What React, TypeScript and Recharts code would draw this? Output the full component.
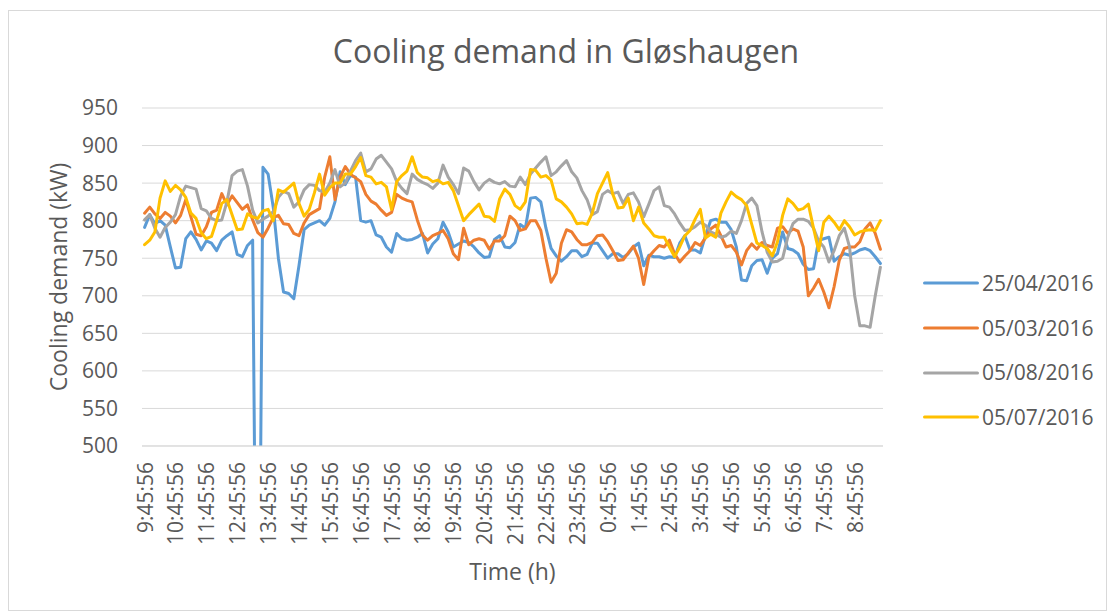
import { CartesianGrid, Label, Legend, Line, LineChart, XAxis, YAxis } from "recharts";

const FONT = "'Open Sans', 'DejaVu Sans', sans-serif";
const TEXT = "#595959";
const GRID = "#d9d9d9";
const COLORS = ["#5B9BD5", "#ED7D31", "#A5A5A5", "#FFC000"];

// one reading every 10 minutes, starting 9:45:56
const TIMES = Array.from({ length: 144 }, (_, i) => {
  const m = 9 * 60 + 45 + i * 10;
  return `${Math.floor(m / 60) % 24}:${String(m % 60).padStart(2, "0")}:56`;
});

const HOUR_TICKS = [
  "9:45:56", "10:45:56", "11:45:56", "12:45:56", "13:45:56", "14:45:56",
  "15:45:56", "16:45:56", "17:45:56", "18:45:56", "19:45:56", "20:45:56",
  "21:45:56", "22:45:56", "23:45:56", "0:45:56", "1:45:56", "2:45:56",
  "3:45:56", "4:45:56", "5:45:56", "6:45:56", "7:45:56", "8:45:56",
];

const Y_TICKS = [500, 550, 600, 650, 700, 750, 800, 850, 900, 950];

const SERIES_NAMES = ["25/04/2016", "05/03/2016", "05/08/2016", "05/07/2016"];

const APR25 = [
  791, 808, 796, 800, 794, 765, 737, 738, 776, 785, 775, 761, 773, 770, 760, 774, 780, 785, 755, 752,
  767, 774, 0, 871, 862, 818, 750, 705, 703, 696, 740, 788, 794, 797, 800, 794, 803,
  825, 865, 848, 860, 858, 800, 798, 800, 781, 778, 765, 758, 783, 776, 774, 775, 778, 783, 757, 769,
  776, 798, 785, 765, 769, 773, 771, 765, 757, 751, 752, 775, 780, 765, 764, 771,
  795, 790, 830, 831, 825, 790, 763, 753, 746, 752, 760, 760, 752, 755, 770, 770, 760, 750, 756, 756,
  751, 756, 765, 770, 740, 754, 752, 752, 750, 752, 751, 770, 780, 761, 761, 757,
  780, 800, 802, 798, 798, 788, 765, 721, 720, 740, 747, 748, 730, 750, 756, 785, 763, 761, 756, 742,
  735, 736, 774, 776, 778, 746, 752, 756, 754, 757, 761, 763, 760, 752, 743,
];

const MAR05 = [
  810, 818, 809, 803, 811, 806, 797, 807, 828, 805, 782, 780, 792, 811, 814, 836, 821, 833, 824, 815,
  821, 801, 784, 778, 790, 804, 807, 796, 795, 783, 780, 797, 808, 812, 816, 858, 885,
  828, 858, 872, 862, 857, 852, 835, 826, 822, 814, 807, 811, 835, 830, 827, 825, 801, 781, 774, 780,
  783, 787, 776, 756, 748, 790, 768, 774, 776, 774, 762, 773, 773, 780, 806, 800,
  787, 789, 800, 800, 787, 750, 718, 730, 770, 788, 785, 775, 768, 768, 771, 780, 781, 772, 760, 747,
  748, 757, 766, 750, 715, 752, 760, 767, 765, 774, 756, 745, 753, 760, 771, 767,
  777, 789, 794, 780, 765, 767, 758, 741, 760, 769, 762, 771, 767, 765, 790, 792, 783, 789, 786, 765,
  700, 710, 722, 705, 684, 712, 747, 763, 765, 765, 772, 789, 797, 783, 762,
];

const AUG05 = [
  801, 808, 790, 778, 791, 798, 808, 833, 846, 844, 842, 816, 813, 803, 800, 801, 825, 860, 866, 868,
  846, 814, 797, 802, 806, 812, 831, 839, 836, 818, 825, 841, 848, 847, 840, 838, 850,
  868, 845, 850, 866, 880, 890, 865, 869, 882, 887, 878, 869, 852, 843, 836, 862, 855, 851, 848, 843,
  850, 874, 858, 848, 836, 870, 866, 852, 841, 850, 855, 851, 849, 852, 846, 845,
  858, 848, 862, 870, 878, 885, 860, 865, 873, 880, 865, 857, 840, 828, 808, 812, 835, 840, 836, 838,
  823, 835, 837, 825, 805, 822, 840, 845, 820, 818, 809, 797, 787, 788, 792, 798,
  794, 785, 782, 778, 780, 786, 783, 800, 823, 830, 820, 785, 758, 745, 746, 750, 778, 796, 802, 802,
  799, 790, 773, 765, 745, 760, 780, 790, 765, 700, 660, 660, 658, 700, 738,
];

const JUL05 = [
  768, 774, 785, 830, 853, 839, 847, 841, 831, 810, 803, 784, 776, 779, 800, 823, 828, 808, 788, 789,
  809, 805, 803, 813, 815, 800, 841, 838, 844, 850, 823, 806, 815, 837, 862, 834, 844,
  850, 850, 862, 862, 872, 884, 860, 858, 849, 851, 845, 815, 852, 860, 866, 885, 864, 858, 857, 852,
  854, 849, 851, 840, 820, 800, 808, 815, 822, 806, 805, 799, 829, 842, 835, 820,
  815, 825, 868, 867, 858, 860, 854, 829, 825, 818, 809, 796, 797, 795, 810, 836, 850, 864, 835, 817,
  818, 830, 800, 818, 797, 789, 780, 778, 778, 765, 752, 765, 780, 787, 802, 815,
  777, 782, 778, 810, 825, 838, 832, 828, 820, 795, 770, 767, 763, 753, 772, 807, 829, 823, 814, 816,
  822, 790, 760, 798, 806, 798, 788, 800, 792, 781, 785, 787, 788, 787, 800,
];

const SERIES_VALUES = [APR25, MAR05, AUG05, JUL05];
const KEYS = ["apr25", "mar05", "aug05", "jul05"];

const rows = TIMES.map((time, i) => {
  const row: { [k: string]: string | number } = { time };
  KEYS.forEach((k, s) => {
    row[k] = SERIES_VALUES[s][i];
  });
  return row;
});

function TimeTick({ x, y, payload }: any) {
  const bx = x + 8;
  return (
    <text
      x={bx}
      y={y}
      transform={`rotate(-90, ${bx}, ${y})`}
      textAnchor="end"
      fill={TEXT}
      fontSize={21}
      fontFamily={FONT}
    >
      {payload.value}
    </text>
  );
}

function LegendBox({ payload }: any) {
  // keep the series order, not the alphabetical one
  const items = [...(payload ?? [])].sort(
    (a: any, b: any) => SERIES_NAMES.indexOf(a.value) - SERIES_NAMES.indexOf(b.value)
  );
  return (
    <div style={{ fontFamily: FONT, fontSize: 21, color: TEXT }}>
      {items.map((entry: any) => (
        <div key={entry.value} style={{ display: "flex", alignItems: "center", height: 44.7 }}>
          <svg width={56} height={8} style={{ display: "block" }}>
            <line x1={1.5} y1={4} x2={54.5} y2={4} stroke={entry.color} strokeWidth={3} strokeLinecap="round" />
          </svg>
          <span style={{ marginLeft: 3, lineHeight: 1 }}>{entry.value}</span>
        </div>
      ))}
    </div>
  );
}

export default function App() {
  return (
    <div style={{ position: "absolute", left: 0, top: 0, width: 1115, height: 616, background: "#fff" }}>
      <div
        style={{
          position: "absolute",
          left: 8,
          top: 10,
          width: 1099,
          height: 601,
          border: `1px solid ${GRID}`,
          boxSizing: "border-box",
        }}
      />
      <svg width={1115} height={616} style={{ position: "absolute", left: 0, top: 0 }}>
        <text x={566} y={63} textAnchor="middle" fill={TEXT} fontSize={32} fontFamily={FONT}>
          Cooling demand in Gløshaugen
        </text>
      </svg>
      <div style={{ position: "absolute", left: 0, top: 0 }}>
        <LineChart width={1115} height={616} data={rows} margin={{ top: 108, right: 40, bottom: 20, left: 0 }}>
          <CartesianGrid horizontal vertical={false} stroke={GRID} strokeWidth={1} />
          <XAxis
            dataKey="time"
            ticks={HOUR_TICKS}
            interval={0}
            height={150}
            padding={{ left: 2.6, right: 2.6 }}
            axisLine={{ stroke: GRID }}
            tickLine={false}
            tickSize={0}
            tickMargin={16}
            tick={<TimeTick />}
          >
            <Label
              content={({ viewBox }: any) => (
                <text
                  x={viewBox.x + viewBox.width / 2}
                  y={viewBox.y + 134}
                  textAnchor="middle"
                  fill={TEXT}
                  fontSize={23}
                  fontFamily={FONT}
                >
                  Time (h)
                </text>
              )}
            />
          </XAxis>
          <YAxis
            width={142}
            domain={[500, 950]}
            ticks={Y_TICKS}
            allowDataOverflow
            axisLine={false}
            tickLine={false}
            tickSize={0}
            tickMargin={24}
            tick={{ fill: TEXT, fontSize: 21, fontFamily: FONT }}
          >
            <Label
              content={({ viewBox }: any) => {
                const lx = viewBox.x + 67;
                const ly = viewBox.y + viewBox.height / 2;
                return (
                  <text
                    x={lx}
                    y={ly}
                    transform={`rotate(-90, ${lx}, ${ly})`}
                    textAnchor="middle"
                    fill={TEXT}
                    fontSize={23}
                    fontFamily={FONT}
                  >
                    Cooling demand (kW)
                  </text>
                );
              }}
            />
          </YAxis>
          <Legend
            layout="vertical"
            align="right"
            verticalAlign="middle"
            wrapperStyle={{ left: 923, top: 261, width: 192 }}
            content={<LegendBox />}
          />
          {KEYS.map((k, s) => (
            <Line
              key={k}
              type="linear"
              dataKey={k}
              name={SERIES_NAMES[s]}
              stroke={COLORS[s]}
              strokeWidth={3}
              strokeLinejoin="round"
              strokeLinecap="round"
              dot={false}
              activeDot={false}
              isAnimationActive={false}
            />
          ))}
        </LineChart>
      </div>
    </div>
  );
}
